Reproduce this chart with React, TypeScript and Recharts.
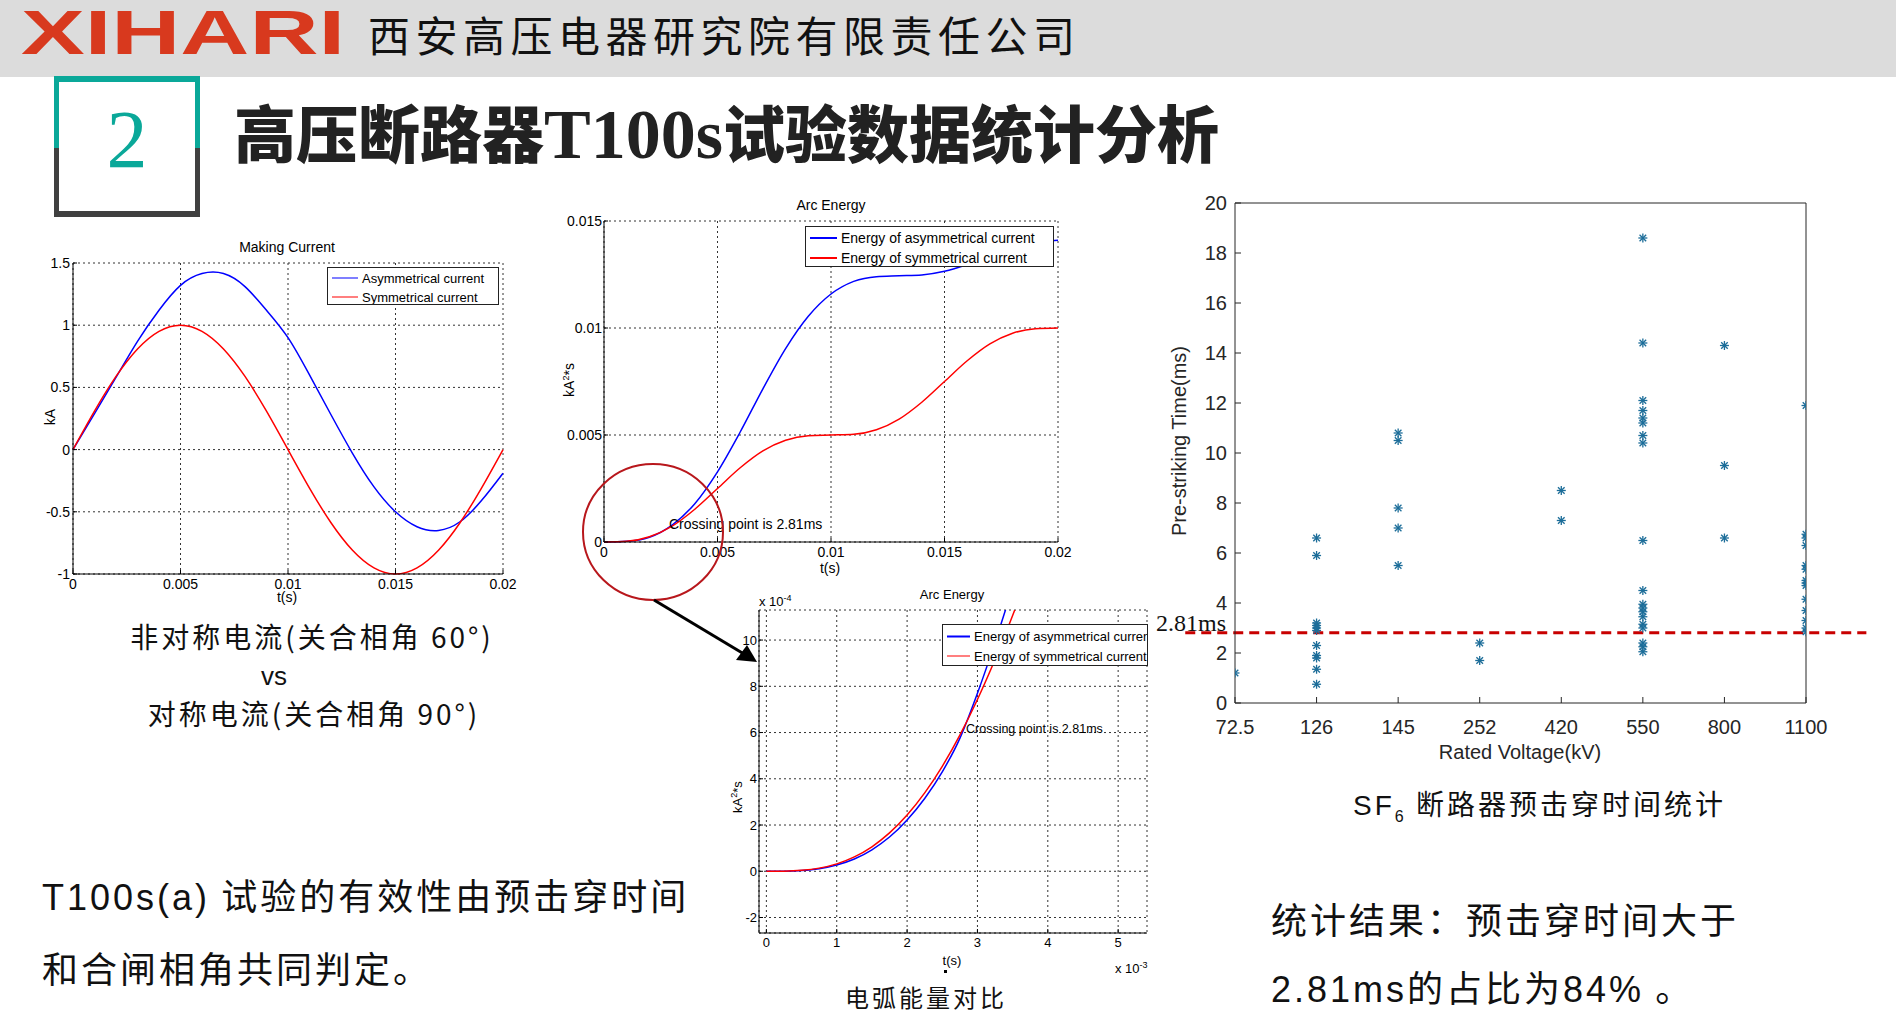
import React from "react";
import {
  LineChart,
  Line,
  XAxis,
  YAxis,
  CartesianGrid,
  ScatterChart,
  Scatter,
  ReferenceLine,
} from "recharts";

// Making Current (t in s, current in kA)
const mcTime = [0, 0.001, 0.002, 0.003, 0.004, 0.005, 0.006, 0.007, 0.008, 0.009, 0.01, 0.011, 0.012, 0.013, 0.014, 0.015, 0.016, 0.017, 0.018, 0.019, 0.02];
const asymCurrent = [0, 0.29, 0.58, 0.87, 1.12, 1.32, 1.415, 1.415, 1.31, 1.12, 0.9, 0.6, 0.28, -0.03, -0.3, -0.5, -0.62, -0.65, -0.58, -0.41, -0.19];
const symCurrent = [0, 0.309, 0.588, 0.809, 0.951, 1, 0.951, 0.809, 0.588, 0.309, 0, -0.309, -0.588, -0.809, -0.951, -1, -0.951, -0.809, -0.588, -0.309, 0];

// Arc Energy (kA^2*s), same time base
const asymEnergy = [0, 0.00003, 0.00022, 0.00079, 0.00179, 0.00328, 0.00514, 0.00716, 0.00904, 0.01055, 0.01159, 0.01218, 0.0124, 0.01244, 0.01248, 0.01265, 0.01297, 0.01337, 0.01375, 0.014, 0.0141];
const symEnergy = [0, 0.000032, 0.000243, 0.000743, 0.001532, 0.0025, 0.003468, 0.004257, 0.004757, 0.004968, 0.005, 0.005032, 0.005243, 0.005743, 0.006532, 0.0075, 0.008468, 0.009257, 0.009757, 0.009968, 0.01];

// zoomed Arc Energy (t in 1e-3 s, energy in 1e-4 kA^2*s)
const zoomTime = [0, 0.25, 0.5, 0.75, 1, 1.25, 1.5, 1.75, 2, 2.25, 2.5, 2.75, 3, 3.25, 3.5, 3.75];
const zoomAsym = [0, 0.003, 0.03, 0.11, 0.27, 0.53, 0.93, 1.48, 2.22, 3.15, 4.3, 5.75, 7.7, 9.9, 12.3, 14.9];
const zoomSym = [0, 0.005, 0.04, 0.136, 0.321, 0.622, 1.06, 1.658, 2.43, 3.388, 4.54, 5.888, 7.43, 9.158, 11.06, 13.12];

// SF6 breaker pre-striking time (ms) per rated voltage
const voltages = ["72.5", "126", "145", "252", "420", "550", "800", "1100"];
const preStrike = [
  [1.2],
  [6.6, 5.9, 3.2, 3.1, 3.0, 2.9, 2.3, 1.9, 1.8, 1.35, 0.75],
  [10.8, 10.5, 7.8, 7.0, 5.5],
  [2.4, 1.7],
  [8.5, 7.3],
  [18.6, 14.4, 12.1, 11.7, 11.4, 11.2, 10.7, 10.4, 6.5, 4.5, 3.95, 3.8, 3.65, 3.45, 3.15, 3.0, 2.4, 2.25, 2.05],
  [14.3, 9.5, 6.6],
  [11.9, 6.75, 6.6, 6.3, 5.5, 5.35, 4.9, 4.8, 4.7, 4.15, 3.7, 3.3, 3.0, 2.85],
];
const threshold = 2.81;

const mcTicksX = [0, 0.005, 0.01, 0.015, 0.02];
const mcTicksY = [-1, -0.5, 0, 0.5, 1, 1.5];
const aeTicksY = [0, 0.005, 0.01, 0.015];
const zTicksX = [0, 1, 2, 3, 4, 5];
const zTicksY = [-2, 0, 2, 4, 6, 8, 10];
const psTicksY = [0, 2, 4, 6, 8, 10, 12, 14, 16, 18, 20];

const mcData = mcTime.map((t, i) => ({ t, asym: asymCurrent[i], sym: symCurrent[i] }));
const aeData = mcTime.map((t, i) => ({ t, asym: asymEnergy[i], sym: symEnergy[i] }));
const zData = zoomTime.map((t, i) => ({ t, asym: zoomAsym[i], sym: zoomSym[i] }));
const psData = preStrike.flatMap((vals, i) => vals.map((v) => ({ x: i, y: v })));

const SANS = "'Liberation Sans', Arial, sans-serif";
const NARROW = "'Liberation Sans Narrow', 'Liberation Sans', Arial, sans-serif";
const CJK = "'Noto Sans CJK SC', sans-serif";
const SERIF = "'Liberation Serif', 'Times New Roman', serif";

function Txt({ x, y, size = 14, anchor = "left", font = SANS, color = "#000", weight = 400, spacing = 0, children }: any) {
  const tx = anchor === "center" ? "-50%" : "0";
  return (
    <div
      style={{
        position: "absolute",
        left: x,
        top: y,
        fontSize: size,
        fontFamily: font,
        color,
        fontWeight: weight,
        letterSpacing: spacing,
        lineHeight: 1,
        whiteSpace: "nowrap",
        transform: `translate(${tx}, -50%)`,
      }}
    >
      {children}
    </div>
  );
}

function RotLabel({ x, y, size, color = "#000", children }: any) {
  return (
    <div
      style={{
        position: "absolute",
        left: x,
        top: y,
        fontSize: size,
        fontFamily: SANS,
        color,
        lineHeight: 1,
        whiteSpace: "nowrap",
        transform: "translate(-50%, -50%) rotate(-90deg)",
      }}
    >
      {children}
    </div>
  );
}

function MLegend({ left, top, width, height, size, items, lineW = 26, rows }: any) {
  return (
    <div
      style={{
        position: "absolute",
        left,
        top,
        width,
        height,
        background: "#fff",
        border: "1px solid #222",
        boxSizing: "border-box",
        overflow: "hidden",
        fontFamily: SANS,
        fontSize: size,
      }}
    >
      {items.map((it: any, i: number) => (
        <div key={i} style={{ position: "absolute", left: 4, top: rows[i] - top, transform: "translateY(-50%)", display: "flex", alignItems: "center", whiteSpace: "nowrap" }}>
          <div style={{ width: lineW, height: it.w, background: it.color, marginRight: 4 }} />
          <span style={{ lineHeight: 1 }}>{it.name}</span>
        </div>
      ))}
    </div>
  );
}

function Asterisk(props: any) {
  const { cx, cy } = props;
  const a = 4.5;
  const d = 3.3;
  const c = "#1c6d99";
  return (
    <g stroke={c} strokeWidth={1.3}>
      <line x1={cx - a} y1={cy} x2={cx + a} y2={cy} />
      <line x1={cx} y1={cy - a} x2={cx} y2={cy + a} />
      <line x1={cx - d} y1={cy - d} x2={cx + d} y2={cy + d} />
      <line x1={cx - d} y1={cy + d} x2={cx + d} y2={cy - d} />
    </g>
  );
}

const tickStyle = { fill: "#000", fontSize: 14, fontFamily: SANS };

function MakingCurrent() {
  return (
    <div style={{ position: "absolute", left: 0, top: 225 }}>
      <LineChart width={540} height={390} data={mcData} margin={{ top: 38, right: 37, bottom: 16, left: 23 }}>
        <CartesianGrid stroke="#333" strokeDasharray="2 3" />
        <XAxis dataKey="t" type="number" domain={[0, 0.02]} ticks={mcTicksX} height={25} tickSize={-4} tickMargin={9} tick={tickStyle} axisLine={{ stroke: "#000" }} tickLine={{ stroke: "#000" }} />
        <YAxis type="number" domain={[-1, 1.5]} ticks={mcTicksY} width={50} tickSize={-4} tickMargin={7} tick={tickStyle} axisLine={{ stroke: "#000" }} tickLine={{ stroke: "#000" }} />
        <Line type="natural" dataKey="asym" stroke="#0000ff" strokeWidth={1.5} dot={false} isAnimationActive={false} />
        <Line type="natural" dataKey="sym" stroke="#ff0000" strokeWidth={1.5} dot={false} isAnimationActive={false} />
      </LineChart>
    </div>
  );
}

function ArcEnergy() {
  return (
    <div style={{ position: "absolute", left: 550, top: 190 }}>
      <LineChart width={540} height={390} data={aeData} margin={{ top: 31, right: 32, bottom: 13, left: 4 }}>
        <CartesianGrid stroke="#333" strokeDasharray="2 3" />
        <XAxis dataKey="t" type="number" domain={[0, 0.02]} ticks={mcTicksX} height={25} tickSize={-4} tickMargin={9} tick={tickStyle} axisLine={{ stroke: "#000" }} tickLine={{ stroke: "#000" }} />
        <YAxis type="number" domain={[0, 0.015]} ticks={aeTicksY} width={50} tickSize={-4} tickMargin={6} tick={tickStyle} axisLine={{ stroke: "#000" }} tickLine={{ stroke: "#000" }} />
        <Line type="monotone" dataKey="asym" stroke="#0000ff" strokeWidth={1.5} dot={false} isAnimationActive={false} />
        <Line type="monotone" dataKey="sym" stroke="#ff0000" strokeWidth={1.5} dot={false} isAnimationActive={false} />
      </LineChart>
    </div>
  );
}

function ArcEnergyZoom() {
  const ts = { ...tickStyle, fontSize: 13 };
  return (
    <div style={{ position: "absolute", left: 700, top: 580 }}>
      <LineChart width={470} height={400} data={zData} margin={{ top: 30, right: 23, bottom: 22, left: 19 }}>
        <CartesianGrid stroke="#333" strokeDasharray="2 3" />
        <XAxis dataKey="t" type="number" domain={[-0.105, 5.41]} allowDataOverflow ticks={zTicksX} height={25} tickSize={-4} tickMargin={9} tick={ts} axisLine={{ stroke: "#000" }} tickLine={{ stroke: "#000" }} />
        <YAxis type="number" domain={[-2.67, 11.3]} allowDataOverflow ticks={zTicksY} width={40} tickSize={-4} tickMargin={6} tick={ts} axisLine={{ stroke: "#000" }} tickLine={{ stroke: "#000" }} />
        <Line type="monotone" dataKey="asym" stroke="#0000ff" strokeWidth={1.5} dot={false} isAnimationActive={false} />
        <Line type="monotone" dataKey="sym" stroke="#ff0000" strokeWidth={1.5} dot={false} isAnimationActive={false} />
      </LineChart>
    </div>
  );
}

function PreStrike() {
  const ts = { fill: "#262626", fontSize: 20, fontFamily: SANS };
  const ax = { stroke: "#262626" };
  return (
    <div style={{ position: "absolute", left: 1140, top: 180 }}>
      <ScatterChart width={756} height={600} margin={{ top: 13, right: 80, bottom: 37, left: 50 }}>
        <XAxis dataKey="x" type="number" domain={[0, 7]} allowDataOverflow ticks={[0, 1, 2, 3, 4, 5, 6, 7]} tickFormatter={(i: number) => voltages[i]} height={40} tickSize={-6} tickMargin={23} tick={ts} axisLine={ax} tickLine={ax} />
        <XAxis xAxisId="top" orientation="top" dataKey="x" type="number" domain={[0, 7]} allowDataOverflow ticks={[0, 1, 2, 3, 4, 5, 6, 7]} height={10} tickSize={-6} tick={false} axisLine={ax} tickLine={ax} />
        <YAxis dataKey="y" type="number" domain={[0, 20]} allowDataOverflow ticks={psTicksY} width={45} tickSize={-6} tickMargin={14} tick={ts} axisLine={ax} tickLine={ax} />
        <YAxis yAxisId="right" orientation="right" dataKey="y" type="number" domain={[0, 20]} allowDataOverflow ticks={psTicksY} width={10} tickSize={-6} tick={false} axisLine={ax} tickLine={ax} />
        <Scatter data={psData} shape={(p: any) => <Asterisk {...p} />} isAnimationActive={false} />
        <ReferenceLine
          segment={[{ x: -0.61, y: threshold }, { x: 7.74, y: threshold }]}
          ifOverflow="visible"
          stroke="#c80000"
          strokeWidth={3}
          strokeDasharray="10 6"
        />
      </ScatterChart>
    </div>
  );
}

export default function App() {
  return (
    <div style={{ position: "absolute", left: 0, top: 0, width: 1896, height: 1014, background: "#fff", overflow: "hidden" }}>
      {/* header */}
      <div style={{ position: "absolute", left: 0, top: 0, width: 1896, height: 77, background: "#dcdcdc" }} />
      <svg width={360} height={70} style={{ position: "absolute", left: 0, top: 0 }}>
        <text x={21} y={54} fontFamily={SANS} fontWeight={700} fontSize={63} fill="#d8391e" textLength={324} lengthAdjust="spacingAndGlyphs">
          XIHARI
        </text>
      </svg>
      <Txt x={368} y={34} size={42} font={CJK} spacing={5.5} color="#111">西安高压电器研究院有限责任公司</Txt>

      {/* section box */}
      <div style={{ position: "absolute", left: 54, top: 76, width: 146, height: 72, borderTop: "6px solid #0aa899", borderLeft: "5px solid #0aa899", borderRight: "5px solid #0aa899", boxSizing: "border-box" }} />
      <div style={{ position: "absolute", left: 54, top: 148, width: 146, height: 69, borderBottom: "6px solid #404040", borderLeft: "5px solid #404040", borderRight: "5px solid #404040", boxSizing: "border-box" }} />
      <Txt x={127} y={140} size={82} font={SERIF} anchor="center" color="#0aa899">2</Txt>

      <div style={{ position: "absolute", left: 234, top: 135, transform: "translateY(-50%)", whiteSpace: "nowrap", color: "#222", fontWeight: 900, fontSize: 62, fontFamily: CJK, lineHeight: 1 }}>
        高压断路器<span style={{ fontFamily: SERIF, fontWeight: 700, fontSize: 70 }}>T100s</span>试验数据统计分析
      </div>

      {/* charts */}
      <MakingCurrent />
      <ArcEnergy />
      <ArcEnergyZoom />
      <PreStrike />

      {/* Making Current annotations */}
      <Txt x={287} y={247} size={14} anchor="center">Making Current</Txt>
      <RotLabel x={50} y={417} size={14}>kA</RotLabel>
      <Txt x={287} y={597} size={14} anchor="center">t(s)</Txt>
      <MLegend
        left={327}
        top={267}
        width={172}
        height={38}
        size={13}
        rows={[277, 296]}
        items={[
          { name: "Asymmetrical current", color: "#0000ff", w: 1.5 },
          { name: "Symmetrical current", color: "#ff0000", w: 1.5 },
        ]}
      />

      {/* Arc Energy annotations */}
      <Txt x={831} y={205} size={14} anchor="center">Arc Energy</Txt>
      <RotLabel x={569} y={380} size={14}>kA<sup style={{ fontSize: 9 }}>2</sup>*s</RotLabel>
      <Txt x={830} y={568} size={14} anchor="center">t(s)</Txt>
      <Txt x={669} y={524} size={14}>Crossing point is 2.81ms</Txt>
      <MLegend
        left={805}
        top={226}
        width={249}
        height={41}
        size={14}
        lineW={27}
        rows={[237, 257]}
        items={[
          { name: "Energy of asymmetrical current", color: "#0000ff", w: 1.5 },
          { name: "Energy of symmetrical current", color: "#ff0000", w: 1.5 },
        ]}
      />

      {/* zoomed Arc Energy annotations */}
      <Txt x={952} y={594} size={13} anchor="center">Arc Energy</Txt>
      <Txt x={759} y={601} size={13}>x 10<sup style={{ fontSize: 9 }}>-4</sup></Txt>
      <Txt x={1115} y={968} size={13}>x 10<sup style={{ fontSize: 9 }}>-3</sup></Txt>
      <Txt x={952} y={960} size={13} anchor="center">t(s)</Txt>
      <div style={{ position: "absolute", left: 944, top: 970, width: 3, height: 3, background: "#000" }} />
      <RotLabel x={737} y={797} size={13}>kA<sup style={{ fontSize: 9 }}>2</sup>*s</RotLabel>
      <Txt x={966} y={729} size={12.5}>Crossing point is 2.81ms</Txt>
      <MLegend
        left={942}
        top={624}
        width={206}
        height={42}
        size={13}
        lineW={23}
        rows={[635, 655]}
        items={[
          { name: "Energy of asymmetrical current", color: "#0000ff", w: 2 },
          { name: "Energy of symmetrical current", color: "#ff0000", w: 1 },
        ]}
      />

      {/* pre-striking annotations */}
      <RotLabel x={1179} y={441} size={20} color="#262626">Pre-striking Time(ms)</RotLabel>
      <Txt x={1520} y={752} size={20} anchor="center" color="#262626">Rated Voltage(kV)</Txt>
      <Txt x={1156} y={623} size={24} font={SERIF} color="#111">2.81ms</Txt>

      {/* circle + arrow */}
      <svg width={1896} height={1014} style={{ position: "absolute", left: 0, top: 0, pointerEvents: "none" }}>
        <ellipse cx={653} cy={532} rx={70} ry={68} fill="none" stroke="#b8171c" strokeWidth={2} />
        <line x1={654} y1={600} x2={744} y2={654} stroke="#000" strokeWidth={3} />
        <polygon points="757,662 736,660 747,645" fill="#000" />
      </svg>

      {/* captions */}
      <Txt x={312} y={636} size={28} font={CJK} anchor="center" spacing={3} color="#111">非对称电流(关合相角 60°)</Txt>
      <Txt x={274} y={676} size={26} font={NARROW} anchor="center" color="#111">vs</Txt>
      <Txt x={314} y={713} size={28} font={CJK} anchor="center" spacing={3} color="#111">对称电流(关合相角 90°)</Txt>
      <Txt x={926} y={997} size={24} font={CJK} anchor="center" spacing={3} color="#111">电弧能量对比</Txt>
      <Txt x={1353} y={807} size={28} font={CJK} spacing={3} color="#111">
        <span style={{ fontFamily: NARROW }}>SF</span><sub style={{ fontSize: 16, fontFamily: NARROW }}>6</sub> 断路器预击穿时间统计
      </Txt>

      <Txt x={42} y={896} size={36} font={CJK} spacing={3} color="#111">
        <span style={{ fontFamily: NARROW }}>T100s(a)</span> 试验的有效性由预击穿时间
      </Txt>
      <Txt x={42} y={967} size={36} font={CJK} spacing={3} color="#111">和合闸相角共同判定。</Txt>
      <Txt x={1271} y={918} size={36} font={CJK} spacing={3} color="#111">统计结果：预击穿时间大于</Txt>
      <Txt x={1271} y={988} size={36} font={CJK} spacing={3} color="#111">
        <span style={{ fontFamily: NARROW }}>2.81ms</span>的占比为<span style={{ fontFamily: NARROW }}>84%</span> 。
      </Txt>
    </div>
  );
}
